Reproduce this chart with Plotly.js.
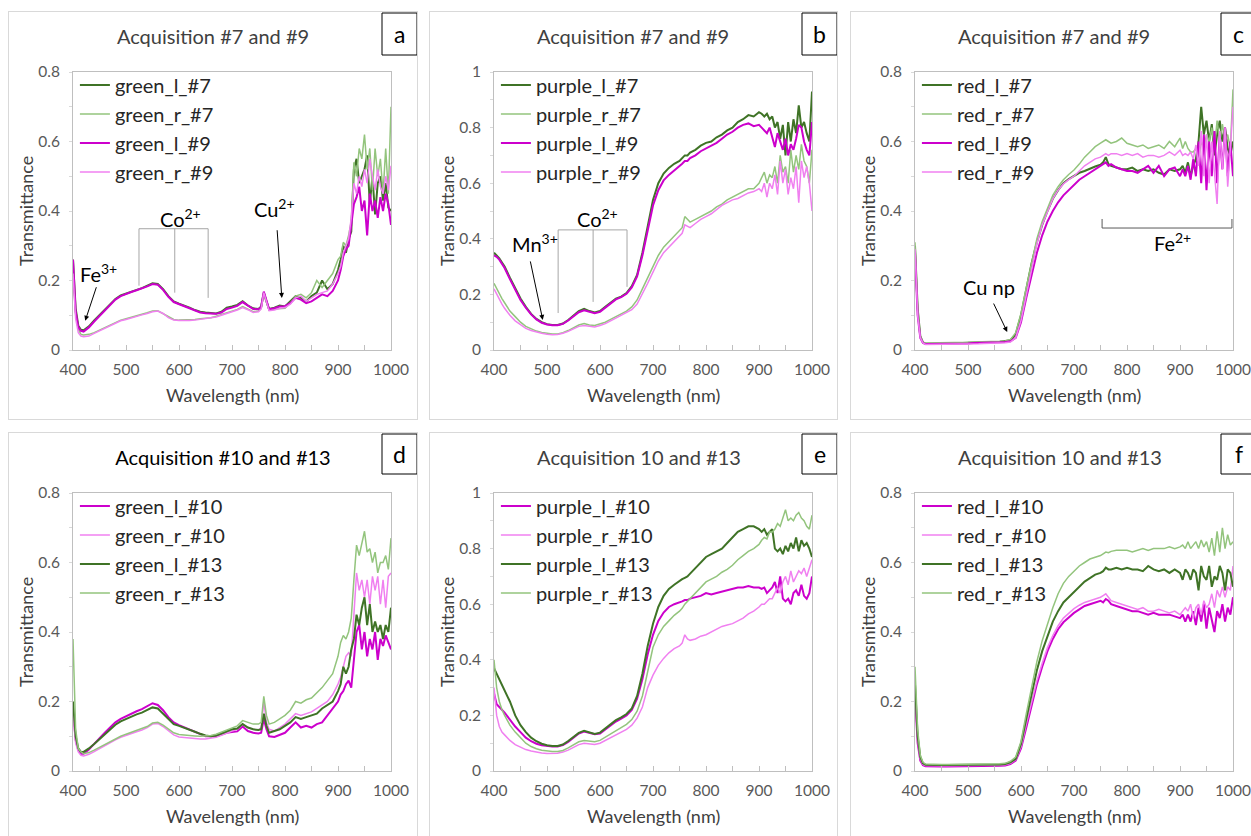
<!DOCTYPE html>
<html><head><meta charset="utf-8">
<script src="https://cdn.plot.ly/plotly-3.0.1.min.js"></script>
<style>
html,body{margin:0;padding:0;background:#fff;width:1251px;height:836px;overflow:hidden;}
.pl{position:absolute;}
.bx{position:absolute;border:1px solid #d9d9d9;box-sizing:border-box;pointer-events:none;}
</style></head><body>
<script>
// Wavelength grid (nm)
const wl = [400,405,410,415,420,
430,440,450,460,470,480,490,500,510,520,
530,540,550,560,570,580,590,600,610,620,
630,640,650,660,670,680,690,700,710,720,
730,740,750,755,760,765,770,780,790,800,
810,820,830,840,850,860,870,880,890,900,
905,910,915,920,925,930,935,940,945,950,
955,960,965,970,975,980,985,990,995,1000];

// Panel a: green, acquisitions #7 and #9
const a_green_l_7 = [0.26,0.12,0.07,0.058,0.057,
0.068,0.085,0.10,0.118,0.133,0.147,0.157,0.163,0.168,0.173,
0.178,0.184,0.192,0.19,0.175,0.155,0.14,0.133,0.128,0.122,
0.115,0.11,0.108,0.107,0.105,0.11,0.122,0.125,0.13,0.14,
0.128,0.12,0.118,0.125,0.165,0.14,0.118,0.122,0.128,0.125,
0.14,0.155,0.15,0.14,0.155,0.165,0.2,0.175,0.19,0.23,
0.26,0.3,0.28,0.32,0.34,0.52,0.55,0.48,0.5,0.52,
0.56,0.42,0.5,0.39,0.48,0.5,0.43,0.48,0.41,0.4];
const a_green_r_7 = [0.22,0.1,0.06,0.045,0.043,
0.045,0.05,0.057,0.065,0.072,0.08,0.086,0.09,0.095,0.1,
0.103,0.107,0.112,0.113,0.105,0.095,0.088,0.086,0.086,0.086,
0.088,0.09,0.091,0.093,0.097,0.102,0.108,0.112,0.117,0.125,
0.118,0.11,0.112,0.12,0.16,0.135,0.115,0.118,0.12,0.12,
0.135,0.155,0.16,0.15,0.165,0.2,0.18,0.2,0.22,0.26,
0.27,0.31,0.3,0.33,0.37,0.54,0.5,0.58,0.55,0.62,
0.52,0.58,0.46,0.58,0.5,0.55,0.45,0.58,0.45,0.7];
const a_green_l_9 = [0.26,0.11,0.065,0.055,0.053,
0.065,0.082,0.098,0.115,0.13,0.145,0.155,0.162,0.167,0.172,
0.177,0.183,0.19,0.188,0.173,0.153,0.138,0.132,0.127,0.12,
0.113,0.108,0.106,0.105,0.104,0.108,0.118,0.122,0.127,0.138,
0.127,0.118,0.117,0.123,0.168,0.14,0.117,0.12,0.125,0.126,
0.135,0.15,0.145,0.135,0.14,0.15,0.16,0.155,0.17,0.2,
0.23,0.27,0.29,0.3,0.36,0.42,0.44,0.47,0.4,0.43,
0.33,0.45,0.4,0.43,0.38,0.44,0.4,0.45,0.42,0.36];
const a_green_r_9 = [0.22,0.09,0.05,0.04,0.038,
0.04,0.048,0.055,0.063,0.07,0.078,0.084,0.088,0.093,0.098,
0.101,0.105,0.11,0.112,0.105,0.093,0.086,0.085,0.084,0.085,
0.086,0.088,0.09,0.092,0.095,0.1,0.106,0.11,0.115,0.122,
0.116,0.108,0.11,0.118,0.165,0.135,0.113,0.115,0.12,0.122,
0.132,0.15,0.155,0.14,0.15,0.16,0.165,0.17,0.19,0.22,
0.24,0.28,0.3,0.32,0.38,0.48,0.45,0.5,0.47,0.52,
0.48,0.55,0.5,0.46,0.52,0.47,0.45,0.5,0.46,0.53];

// Panel b: purple, acquisitions #7 and #9
const b_purple_l_7 = [0.35,0.34,0.33,0.315,0.30,
0.26,0.22,0.185,0.155,0.13,0.112,0.1,0.093,0.09,0.09,
0.095,0.108,0.125,0.14,0.148,0.14,0.135,0.14,0.155,0.17,
0.185,0.192,0.205,0.23,0.27,0.35,0.44,0.54,0.6,0.635,
0.655,0.67,0.68,0.69,0.70,0.70,0.71,0.72,0.735,0.745,
0.75,0.765,0.775,0.79,0.80,0.82,0.83,0.845,0.84,0.855,
0.85,0.84,0.85,0.83,0.84,0.8,0.82,0.76,0.81,0.7,
0.82,0.75,0.83,0.78,0.88,0.8,0.82,0.78,0.75,0.93];
const b_purple_r_7 = [0.24,0.22,0.2,0.185,0.17,
0.14,0.12,0.1,0.085,0.075,0.068,0.063,0.06,0.058,0.058,
0.062,0.07,0.08,0.09,0.095,0.09,0.088,0.093,0.1,0.11,
0.12,0.13,0.14,0.155,0.18,0.22,0.26,0.3,0.34,0.37,
0.39,0.41,0.43,0.44,0.48,0.47,0.46,0.47,0.48,0.49,
0.5,0.515,0.525,0.54,0.55,0.56,0.57,0.58,0.58,0.6,
0.62,0.64,0.6,0.63,0.62,0.66,0.6,0.7,0.64,0.66,
0.6,0.72,0.64,0.7,0.65,0.74,0.68,0.66,0.6,0.72];
const b_purple_l_9 = [0.34,0.335,0.325,0.31,0.295,
0.255,0.215,0.18,0.152,0.128,0.11,0.098,0.092,0.089,0.089,
0.094,0.106,0.122,0.136,0.143,0.137,0.132,0.137,0.152,0.167,
0.182,0.19,0.202,0.225,0.265,0.34,0.43,0.52,0.575,0.61,
0.63,0.645,0.66,0.67,0.68,0.68,0.69,0.70,0.715,0.725,
0.735,0.745,0.76,0.775,0.785,0.8,0.81,0.815,0.805,0.81,
0.8,0.79,0.78,0.8,0.76,0.73,0.78,0.75,0.72,0.76,
0.7,0.74,0.72,0.76,0.81,0.8,0.75,0.72,0.7,0.82];
const b_purple_r_9 = [0.22,0.2,0.18,0.165,0.15,
0.125,0.105,0.09,0.078,0.07,0.064,0.06,0.057,0.055,0.056,
0.06,0.067,0.076,0.085,0.088,0.085,0.083,0.088,0.095,0.105,
0.115,0.123,0.133,0.145,0.165,0.2,0.24,0.28,0.32,0.35,
0.37,0.39,0.41,0.42,0.45,0.445,0.44,0.455,0.47,0.48,
0.49,0.505,0.52,0.53,0.54,0.545,0.555,0.565,0.57,0.58,
0.57,0.6,0.55,0.6,0.58,0.63,0.56,0.68,0.6,0.65,
0.56,0.62,0.58,0.66,0.53,0.68,0.62,0.66,0.6,0.5];

// Panel c: red, acquisitions #7 and #9
const c_red_l_7 = [0.30,0.12,0.04,0.022,0.018,
0.018,0.018,0.018,0.019,0.019,0.02,0.02,0.021,0.021,0.022,
0.022,0.023,0.023,0.024,0.025,0.028,0.045,0.1,0.175,0.25,
0.31,0.36,0.4,0.435,0.46,0.48,0.492,0.502,0.51,0.515,
0.522,0.528,0.533,0.54,0.555,0.535,0.53,0.525,0.52,0.52,
0.525,0.515,0.52,0.515,0.52,0.51,0.505,0.52,0.515,0.52,
0.53,0.51,0.54,0.5,0.53,0.55,0.6,0.7,0.62,0.66,
0.6,0.65,0.56,0.62,0.66,0.6,0.64,0.58,0.56,0.6];
const c_red_r_7 = [0.31,0.12,0.04,0.022,0.02,
0.02,0.02,0.02,0.021,0.021,0.022,0.022,0.022,0.023,0.023,
0.023,0.024,0.024,0.025,0.026,0.03,0.05,0.105,0.18,0.255,
0.32,0.37,0.41,0.445,0.47,0.49,0.505,0.518,0.535,0.555,
0.57,0.585,0.595,0.6,0.605,0.6,0.595,0.6,0.61,0.595,
0.59,0.585,0.59,0.58,0.585,0.59,0.58,0.6,0.585,0.61,
0.58,0.6,0.58,0.57,0.57,0.58,0.55,0.6,0.58,0.62,
0.6,0.64,0.58,0.66,0.6,0.65,0.6,0.62,0.58,0.75];
const c_red_l_9 = [0.28,0.1,0.035,0.02,0.017,
0.017,0.017,0.017,0.018,0.018,0.018,0.019,0.019,0.02,0.02,
0.02,0.021,0.021,0.022,0.023,0.025,0.035,0.08,0.15,0.22,
0.28,0.33,0.37,0.4,0.425,0.445,0.46,0.475,0.49,0.5,
0.51,0.52,0.53,0.535,0.54,0.53,0.535,0.525,0.52,0.515,
0.515,0.51,0.52,0.53,0.51,0.53,0.5,0.52,0.525,0.5,
0.52,0.5,0.53,0.49,0.55,0.5,0.6,0.48,0.62,0.46,
0.6,0.5,0.63,0.48,0.62,0.52,0.64,0.5,0.6,0.5];
const c_red_r_9 = [0.29,0.1,0.035,0.02,0.016,
0.016,0.016,0.016,0.016,0.017,0.017,0.017,0.018,0.018,0.018,
0.019,0.019,0.02,0.02,0.021,0.023,0.035,0.085,0.16,0.24,
0.305,0.36,0.4,0.435,0.46,0.478,0.49,0.5,0.515,0.53,
0.54,0.55,0.555,0.56,0.565,0.56,0.565,0.565,0.56,0.565,
0.56,0.565,0.555,0.56,0.56,0.555,0.56,0.57,0.56,0.575,
0.56,0.565,0.56,0.57,0.55,0.59,0.53,0.63,0.5,0.62,
0.48,0.6,0.5,0.42,0.63,0.52,0.64,0.47,0.58,0.7];

// Panel d: green, acquisitions #10 and #13
const d_green_l_10 = [0.18,0.09,0.06,0.05,0.05,
0.062,0.078,0.095,0.11,0.125,0.14,0.15,0.158,0.165,0.172,
0.178,0.186,0.195,0.19,0.175,0.155,0.14,0.132,0.126,0.12,
0.113,0.107,0.1,0.1,0.1,0.105,0.11,0.112,0.114,0.128,
0.115,0.11,0.108,0.11,0.15,0.12,0.1,0.098,0.105,0.11,
0.125,0.14,0.125,0.13,0.125,0.135,0.14,0.16,0.18,0.2,
0.22,0.23,0.25,0.26,0.24,0.33,0.4,0.42,0.35,0.4,
0.33,0.38,0.35,0.4,0.32,0.38,0.36,0.39,0.37,0.35];
const d_green_r_10 = [0.16,0.08,0.055,0.045,0.043,
0.048,0.056,0.065,0.073,0.082,0.09,0.097,0.103,0.108,0.113,
0.118,0.125,0.135,0.137,0.128,0.115,0.104,0.098,0.096,0.094,
0.093,0.092,0.092,0.094,0.097,0.103,0.11,0.115,0.12,0.135,
0.125,0.12,0.118,0.125,0.2,0.14,0.12,0.115,0.125,0.135,
0.15,0.165,0.16,0.165,0.17,0.18,0.19,0.2,0.22,0.25,
0.27,0.3,0.33,0.34,0.33,0.45,0.57,0.52,0.55,0.5,
0.55,0.48,0.56,0.52,0.56,0.48,0.55,0.47,0.56,0.57];
const d_green_l_13 = [0.2,0.1,0.065,0.055,0.055,
0.065,0.078,0.092,0.107,0.12,0.133,0.143,0.15,0.157,0.163,
0.168,0.175,0.183,0.18,0.165,0.148,0.135,0.13,0.125,0.12,
0.113,0.107,0.102,0.1,0.102,0.108,0.115,0.12,0.122,0.135,
0.125,0.12,0.118,0.12,0.165,0.13,0.11,0.115,0.12,0.13,
0.14,0.155,0.15,0.155,0.16,0.165,0.18,0.19,0.2,0.23,
0.25,0.3,0.28,0.3,0.35,0.38,0.45,0.42,0.47,0.5,
0.42,0.48,0.4,0.43,0.4,0.42,0.38,0.42,0.4,0.47];
const d_green_r_13 = [0.38,0.12,0.065,0.055,0.05,
0.053,0.06,0.068,0.077,0.085,0.093,0.1,0.106,0.111,0.116,
0.122,0.128,0.138,0.14,0.132,0.12,0.11,0.105,0.103,0.102,
0.101,0.1,0.1,0.102,0.106,0.112,0.12,0.125,0.13,0.145,
0.14,0.135,0.135,0.14,0.215,0.16,0.135,0.14,0.15,0.16,
0.175,0.2,0.195,0.205,0.21,0.225,0.24,0.26,0.28,0.33,
0.37,0.39,0.38,0.4,0.44,0.55,0.65,0.62,0.66,0.69,
0.63,0.64,0.6,0.63,0.57,0.6,0.6,0.62,0.58,0.67];

// Panel e: purple, acquisitions 10 and #13
const e_purple_l_10 = [0.28,0.24,0.23,0.22,0.21,
0.185,0.16,0.14,0.12,0.107,0.098,0.093,0.09,0.088,0.088,
0.093,0.105,0.12,0.135,0.142,0.138,0.132,0.135,0.15,0.165,
0.178,0.188,0.2,0.22,0.26,0.33,0.42,0.49,0.54,0.57,
0.59,0.6,0.605,0.61,0.615,0.615,0.62,0.625,0.63,0.64,
0.635,0.64,0.645,0.65,0.655,0.66,0.66,0.665,0.66,0.66,
0.655,0.66,0.64,0.65,0.66,0.68,0.64,0.7,0.62,0.61,
0.62,0.6,0.64,0.65,0.63,0.67,0.63,0.62,0.64,0.7];
const e_purple_r_10 = [0.3,0.2,0.16,0.14,0.13,
0.11,0.095,0.085,0.077,0.072,0.068,0.065,0.063,0.063,0.064,
0.068,0.075,0.085,0.095,0.1,0.098,0.095,0.1,0.11,0.12,
0.13,0.14,0.15,0.165,0.19,0.23,0.3,0.345,0.38,0.405,
0.425,0.44,0.45,0.46,0.49,0.475,0.47,0.475,0.485,0.49,
0.5,0.51,0.52,0.525,0.53,0.54,0.55,0.565,0.575,0.59,
0.6,0.6,0.61,0.62,0.62,0.64,0.66,0.64,0.68,0.7,
0.67,0.72,0.68,0.7,0.72,0.71,0.73,0.7,0.73,0.76];
const e_purple_l_13 = [0.37,0.35,0.33,0.31,0.29,
0.25,0.2,0.165,0.14,0.12,0.107,0.098,0.093,0.09,0.09,
0.095,0.108,0.123,0.137,0.145,0.14,0.133,0.138,0.153,0.168,
0.183,0.193,0.205,0.225,0.27,0.35,0.45,0.53,0.59,0.63,
0.655,0.67,0.685,0.69,0.695,0.7,0.71,0.73,0.75,0.77,
0.78,0.79,0.8,0.82,0.84,0.86,0.87,0.88,0.88,0.87,
0.86,0.87,0.85,0.86,0.87,0.8,0.79,0.8,0.78,0.81,
0.79,0.82,0.8,0.84,0.79,0.83,0.81,0.82,0.8,0.77];
const e_purple_r_13 = [0.4,0.3,0.25,0.22,0.2,
0.165,0.14,0.12,0.1,0.088,0.08,0.075,0.072,0.07,0.07,
0.074,0.083,0.095,0.105,0.11,0.108,0.105,0.11,0.122,0.135,
0.147,0.157,0.168,0.185,0.215,0.27,0.36,0.445,0.49,0.52,
0.54,0.56,0.575,0.585,0.6,0.61,0.62,0.64,0.66,0.68,
0.69,0.7,0.715,0.725,0.74,0.76,0.775,0.79,0.8,0.815,
0.83,0.84,0.835,0.86,0.86,0.87,0.89,0.88,0.91,0.94,
0.9,0.91,0.9,0.92,0.93,0.91,0.9,0.88,0.87,0.92];

// Panel f: red, acquisitions 10 and #13
const f_red_l_10 = [0.22,0.08,0.03,0.017,0.014,
0.013,0.013,0.013,0.013,0.013,0.013,0.013,0.014,0.014,0.014,
0.014,0.014,0.015,0.015,0.016,0.02,0.03,0.065,0.125,0.19,
0.25,0.3,0.345,0.38,0.408,0.428,0.443,0.455,0.465,0.475,
0.48,0.485,0.49,0.485,0.495,0.49,0.48,0.475,0.47,0.465,
0.46,0.46,0.455,0.45,0.455,0.45,0.45,0.45,0.445,0.44,
0.45,0.43,0.45,0.43,0.46,0.42,0.47,0.43,0.48,0.41,
0.47,0.43,0.4,0.46,0.44,0.48,0.43,0.47,0.45,0.5];
const f_red_r_10 = [0.24,0.09,0.035,0.019,0.016,
0.015,0.015,0.015,0.015,0.015,0.015,0.015,0.015,0.016,0.016,
0.016,0.016,0.017,0.017,0.018,0.022,0.033,0.07,0.135,0.2,
0.26,0.31,0.355,0.39,0.418,0.44,0.455,0.467,0.477,0.485,
0.49,0.495,0.5,0.505,0.51,0.5,0.49,0.485,0.48,0.475,
0.47,0.465,0.47,0.46,0.46,0.465,0.46,0.455,0.46,0.45,
0.46,0.47,0.46,0.48,0.44,0.47,0.48,0.45,0.49,0.47,
0.48,0.51,0.47,0.52,0.5,0.53,0.5,0.53,0.52,0.59];
const f_red_l_13 = [0.25,0.1,0.04,0.022,0.018,
0.017,0.017,0.017,0.017,0.017,0.017,0.017,0.017,0.018,0.018,
0.018,0.018,0.018,0.019,0.02,0.025,0.035,0.078,0.15,0.22,
0.29,0.345,0.39,0.43,0.46,0.485,0.5,0.515,0.53,0.545,
0.555,0.565,0.57,0.575,0.585,0.58,0.58,0.585,0.58,0.585,
0.58,0.58,0.575,0.59,0.58,0.575,0.58,0.57,0.58,0.57,
0.55,0.58,0.57,0.55,0.58,0.57,0.52,0.59,0.56,0.55,
0.59,0.53,0.56,0.55,0.59,0.57,0.52,0.58,0.57,0.53];
const f_red_r_13 = [0.3,0.12,0.045,0.025,0.02,
0.019,0.019,0.019,0.019,0.019,0.02,0.02,0.02,0.02,0.02,
0.02,0.021,0.021,0.021,0.022,0.028,0.04,0.085,0.165,0.245,
0.315,0.375,0.425,0.47,0.51,0.54,0.56,0.575,0.59,0.6,
0.61,0.615,0.62,0.625,0.63,0.628,0.632,0.635,0.635,0.635,
0.63,0.635,0.64,0.635,0.64,0.64,0.64,0.645,0.64,0.645,
0.65,0.64,0.66,0.64,0.65,0.66,0.64,0.665,0.645,0.66,
0.63,0.67,0.62,0.69,0.63,0.7,0.64,0.68,0.65,0.66];

const xTicks = [400,500,600,700,800,900,1000];

const DG = '#3f7326', LG = '#93c47d', MG = '#cc00cc', PK = '#f080f0';
const FONT = 'Lato, "Open Sans", sans-serif';

const W = 318, H = 278, L = 65, T = 61;

function px2paper(px, py){ return [(px - L)/W, (T + H - py)/H]; }

function panel(cfg){
  const bw = cfg.w, bh = cfg.h;
  const d = document.createElement('div');
  d.className='pl'; d.id=cfg.id;
  d.style.left=cfg.left+'px'; d.style.top=cfg.top+'px';
  d.style.width=bw+'px'; d.style.height=bh+'px';
  document.body.appendChild(d);
  const b = document.createElement('div');
  b.className='bx';
  b.style.left=cfg.left+'px'; b.style.top=cfg.top+'px';
  b.style.width=bw+'px'; b.style.height=bh+'px';
  document.body.appendChild(b);

  const traces = cfg.series.map(s => ({
    type:'scatter', mode:'lines', x: wl, y: s.y, name: s.name,
    line:{color:s.color, width:s.width}
  }));

  const lb0 = px2paper(cfg.lbx0, 2), lb1 = px2paper(cfg.lbx0+35, cfg.lby1);
  const shapes = [{type:'rect', xref:'paper', yref:'paper', x0:lb0[0], x1:lb1[0], y0:lb1[1], y1:lb0[1], line:{color:'#000', width:1}, fillcolor:'rgba(0,0,0,0)'}].concat(cfg.shapes||[]);

  const ann = [
    {text:'Wavelength (nm)', xref:'paper', yref:'paper', x:0.5, y:0, yanchor:'middle', yshift:-45, showarrow:false, font:{family:FONT, size:18, color:'#404040'}},
    {text:'Transmittance', xref:'paper', yref:'paper', x:0, y:0.5, xanchor:'center', yanchor:'middle', xshift:-47, textangle:-90, showarrow:false, font:{family:FONT, size:18, color:'#404040'}},
    {text:cfg.letter, xref:'paper', yref:'paper', x:(lb0[0]+lb1[0])/2, y:(lb0[1]+lb1[1])/2, xanchor:'center', yanchor:'middle', showarrow:false, font:{family:FONT, size:23, color:'#000'}}
  ].concat(cfg.ann||[]);

  const layout = {
    width: bw, height: bh,
    margin:{l:L, t:T, r:bw-L-W, b:bh-T-H, pad:0},
    paper_bgcolor:'rgba(0,0,0,0)', plot_bgcolor:'#fff',
    font:{family:FONT, color:'#404040'},
    title:{text:cfg.title, x:cfg.titleX/bw, xanchor:'center', xref:'container', y:1-26/bh, yanchor:'middle', yref:'container', font:{family:FONT, size:20, color:cfg.titleColor||'#404040'}},
    showlegend:true,
    legend:{x:0.006, y:1.023, xanchor:'left', yanchor:'top', bgcolor:'rgba(0,0,0,0)', font:{family:FONT, size:20, color:'#262626'}, traceorder:'normal', itemwidth:30},
    xaxis:{range:[400,1000], tickvals:xTicks, ticks:'inside', ticklen:5, tickcolor:'#bfbfbf', showline:true, linecolor:'#bfbfbf', linewidth:1, mirror:true, showgrid:false, zeroline:false, tickfont:{family:FONT, size:15.5, color:'#595959'}, ticklabelstandoff:5,
      minor:{dtick:50, tick0:400, ticks:'inside', ticklen:5, tickcolor:'#bfbfbf', showgrid:false}},
    yaxis:{range:[0,cfg.ymax], dtick:0.2, tick0:0, ticks:'outside', ticklen:3, tickcolor:'#d9d9d9', showline:true, linecolor:'#bfbfbf', linewidth:1, mirror:true, showgrid:false, zeroline:false, tickfont:{family:FONT, size:15.5, color:'#595959'}, ticklabelstandoff:6,
      minor:{dtick:0.1, tick0:0, ticks:'outside', ticklen:3, tickcolor:'#d9d9d9', showgrid:false}},
    shapes: shapes,
    annotations: ann
  };
  Plotly.newPlot(d, traces, layout, {staticPlot:true, displayModeBar:false});
}

function txt(t, x, y){ return {text:t, x:x, y:y, xref:'x', yref:'y', showarrow:false, xanchor:'center', yanchor:'middle', font:{family:FONT, size:20, color:'#000'}}; }
function arrow(hx, hy, tx, ty){ return {text:'', x:hx, y:hy, ax:tx, ay:ty, xref:'x', yref:'y', axref:'x', ayref:'y', showarrow:true, arrowhead:2, arrowsize:1, arrowwidth:1, arrowcolor:'#000', standoff:0, startstandoff:0}; }
function seg(x0,y0,x1,y1,c){ return {type:'line', xref:'x', yref:'y', x0:x0, y0:y0, x1:x1, y1:y1, line:{color:c||'#a6a6a6', width:1}}; }

const row1 = 11, row2 = 432, bh = 409;

panel({id:'pa', left:8, top:row1, w:410, h:bh, title:'Acquisition #7 and #9', titleX:205, ymax:0.8, letter:'a', lbx0:374, lby1:44,
  series:[
    {name:'green_l_#7', y:a_green_l_7, color:DG, width:2},
    {name:'green_r_#7', y:a_green_r_7, color:LG, width:1.5},
    {name:'green_l_#9', y:a_green_l_9, color:MG, width:2},
    {name:'green_r_#9', y:a_green_r_9, color:PK, width:1.5}],
  ann:[txt('Fe<sup>3+</sup>',449,0.222), arrow(423,0.084,445,0.185),
       txt('Co<sup>2+</sup>',602,0.381), txt('Cu<sup>2+</sup>',781,0.41), arrow(794,0.15,785,0.349)],
  shapes:[seg(524.5,0.349,655,0.349), seg(524.5,0.349,524.5,0.185), seg(592,0.349,592,0.165), seg(655,0.349,655,0.15)]
});

panel({id:'pb', left:429, top:row1, w:409, h:bh, title:'Acquisition #7 and #9', titleX:204, ymax:1, letter:'b', lbx0:373, lby1:44,
  series:[
    {name:'purple_l_#7', y:b_purple_l_7, color:DG, width:2},
    {name:'purple_r_#7', y:b_purple_r_7, color:LG, width:1.5},
    {name:'purple_l_#9', y:b_purple_l_9, color:MG, width:2},
    {name:'purple_r_#9', y:b_purple_r_9, color:PK, width:1.5}],
  ann:[txt('Mn<sup>3+</sup>',477,0.385), arrow(492,0.108,468,0.324), txt('Co<sup>2+</sup>',596,0.475)],
  shapes:[seg(521,0.432,651,0.432), seg(521,0.432,521,0.133), seg(587,0.432,587,0.173), seg(651,0.432,651,0.227)]
});

panel({id:'pc', left:850, top:row1, w:410, h:bh, title:'Acquisition #7 and #9', titleX:204, ymax:0.8, letter:'c', lbx0:371, lby1:44,
  series:[
    {name:'red_l_#7', y:c_red_l_7, color:DG, width:2},
    {name:'red_r_#7', y:c_red_r_7, color:LG, width:1.5},
    {name:'red_l_#9', y:c_red_l_9, color:MG, width:2},
    {name:'red_r_#9', y:c_red_r_9, color:PK, width:1.5}],
  ann:[txt('Cu np',540,0.181), arrow(574,0.052,547,0.138), txt('Fe<sup>2+</sup>',885,0.31)],
  shapes:[seg(753,0.351,998,0.351,'#595959'), seg(753,0.351,753,0.377,'#595959'), seg(998,0.351,998,0.377,'#595959')]
});

panel({id:'pd', left:8, top:row2, w:410, h:bh, title:'Acquisition #10 and #13', titleX:215, titleColor:'#000', ymax:0.8, letter:'d', lbx0:374, lby1:42,
  series:[
    {name:'green_l_#10', y:d_green_l_10, color:MG, width:2},
    {name:'green_r_#10', y:d_green_r_10, color:PK, width:1.5},
    {name:'green_l_#13', y:d_green_l_13, color:DG, width:2},
    {name:'green_r_#13', y:d_green_r_13, color:LG, width:1.5}]
});

panel({id:'pe', left:429, top:row2, w:409, h:bh, title:'Acquisition 10 and #13', titleX:210, ymax:1, letter:'e', lbx0:373, lby1:42,
  series:[
    {name:'purple_l_#10', y:e_purple_l_10, color:MG, width:2},
    {name:'purple_r_#10', y:e_purple_r_10, color:PK, width:1.5},
    {name:'purple_l_#13', y:e_purple_l_13, color:DG, width:2},
    {name:'purple_r_#13', y:e_purple_r_13, color:LG, width:1.5}]
});

panel({id:'pf', left:850, top:row2, w:410, h:bh, title:'Acquisition 10 and #13', titleX:210, ymax:0.8, letter:'f', lbx0:371, lby1:42,
  series:[
    {name:'red_l_#10', y:f_red_l_10, color:MG, width:2},
    {name:'red_r_#10', y:f_red_r_10, color:PK, width:1.5},
    {name:'red_l_#13', y:f_red_l_13, color:DG, width:2},
    {name:'red_r_#13', y:f_red_r_13, color:LG, width:1.5}]
});
</script>
</body></html>
